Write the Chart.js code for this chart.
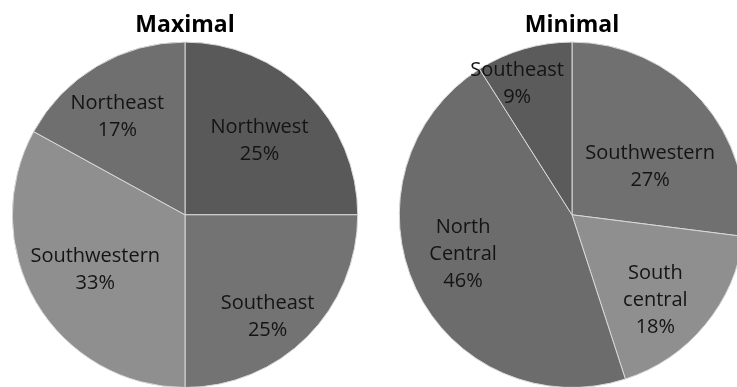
<!DOCTYPE html>
<html lang="en">
<head>
    <meta charset="UTF-8">
    <title>Maximal / Minimal</title>
    <script src="https://cdn.jsdelivr.net/npm/chart.js"></script>
    <style>
        html, body { margin: 0; padding: 0; background: #fff; overflow: hidden; width: 737px; height: 387px; }
        canvas { position: absolute; top: 0; }
        #maxChart { left: 0; }
        #minChart { left: 387px; }
    </style>
</head>
<body>
    <canvas id="maxChart" width="370" height="388"></canvas>
    <canvas id="minChart" width="370" height="388"></canvas>

    <script>
        // regions and their shares (%)
        const maxRegions = ['Northwest', 'Southeast', 'Southwestern', 'Northeast'];
        const maxShares = [25, 25, 33, 17];

        const minRegions = ['Southwestern', 'South central', 'North Central', 'Southeast'];
        const minShares = [27, 18, 46, 9];

        const maxColors = ['#595959', '#737373', '#8f8f8f', '#6f6f6f'];
        const minColors = ['#707070', '#8f8f8f', '#6c6c6c', '#5b5b5b'];

        // label placement: fraction of radius, angle nudge in degrees
        const maxLabelPos = [[0.61, 0], [0.76, 6], [0.61, -1], [0.69, -4]];
        const minLabelPos = [[0.53, 10], [0.69, 6], [0.67, 5.5], [0.82, -6.6]];

        const sliceLabels = {
            id: 'sliceLabels',
            afterDatasetsDraw(chart, args, opts) {
                const ctx = chart.ctx;
                const meta = chart.getDatasetMeta(0);
                const data = chart.data.datasets[0].data;
                ctx.save();
                ctx.font = '20px "Open Sans", sans-serif';
                ctx.fillStyle = '#141414';
                ctx.textAlign = 'center';
                ctx.textBaseline = 'middle';
                meta.data.forEach((arc, i) => {
                    const p = arc.getProps(['x', 'y', 'startAngle', 'endAngle', 'outerRadius'], true);
                    const [frac, nudge] = opts.pos[i];
                    const mid = (p.startAngle + p.endAngle) / 2 + nudge * Math.PI / 180;
                    const cx = p.x + Math.cos(mid) * p.outerRadius * frac;
                    const cy = p.y + Math.sin(mid) * p.outerRadius * frac;
                    const lines = chart.data.labels[i].split(' ').concat(data[i] + '%');
                    const lh = 27;
                    const top = cy - (lines.length - 1) * lh / 2;
                    lines.forEach((t, k) => ctx.fillText(t, cx, top + k * lh));
                });
                ctx.restore();
            }
        };

        function drawPie(id, title, labels, values, colors, pos) {
            new Chart(document.getElementById(id), {
                type: 'pie',
                data: {
                    labels: labels,
                    datasets: [{
                        data: values,
                        backgroundColor: colors,
                        borderColor: '#d8d8d8',
                        borderWidth: 1
                    }]
                },
                options: {
                    responsive: false,
                    animation: false,
                    layout: { padding: 0 },
                    plugins: {
                        legend: { display: false },
                        tooltip: { enabled: false },
                        title: {
                            display: true,
                            text: title,
                            color: '#000',
                            font: { family: '"Open Sans", sans-serif', size: 23, weight: 'bold' },
                            padding: { top: 12, bottom: 2 }
                        },
                        sliceLabels: { pos: pos }
                    }
                },
                plugins: [sliceLabels]
            });
        }

        drawPie('maxChart', 'Maximal', maxRegions, maxShares, maxColors, maxLabelPos);
        drawPie('minChart', 'Minimal', minRegions, minShares, minColors, minLabelPos);
    </script>
</body>
</html>
